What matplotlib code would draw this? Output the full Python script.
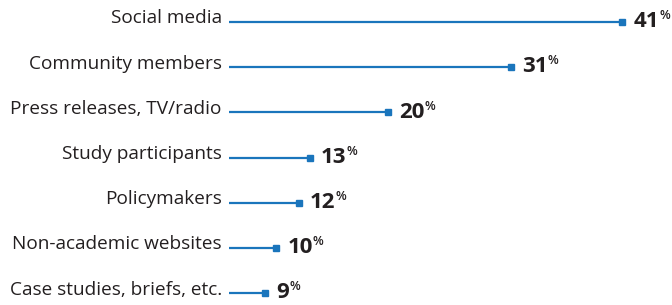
import matplotlib.pyplot as plt

categories = ["Social media", "Community members", "Press releases, TV/radio",
              "Study participants", "Policymakers", "Non-academic websites",
              "Case studies, briefs, etc."]
values = [41, 31, 20, 13, 12, 10, 9]

BLUE = "#1a75bc"
DARK = "#231f20"
FONT = "Open Sans"
LINE_START = 5.75  # value where the leader lines begin

fig = plt.figure(figsize=(6.72, 3.05), dpi=100)
ax = fig.add_axes([0, 0, 1, 1])
ax.set_xlim(-14.75, 45.47)
ax.set_ylim(6.261, -0.487)
ax.axis("off")

for i, (cat, v) in enumerate(zip(categories, values)):
    ax.plot([LINE_START, v], [i, i], color=BLUE, lw=1.6, solid_capstyle="butt")
    ax.plot([v], [i], marker="s", color=BLUE, markersize=4.6, lw=0)
    ax.annotate(cat, xy=(LINE_START, i), xytext=(-5, -1), textcoords="offset points",
                ha="right", va="baseline", fontsize=13.7, family=FONT, color=DARK)
    num = ax.annotate(str(v), xy=(v, i), xytext=(8, -3.8), textcoords="offset points",
                      ha="left", va="baseline", fontsize=16, fontweight="bold",
                      family=FONT, color=DARK)
    ax.annotate("%", xy=(1, 1), xycoords=num, xytext=(0.2, 1.5), textcoords="offset points",
                ha="left", va="top", fontsize=9, fontweight="semibold", family=FONT, color=DARK)

fig.savefig("out.png", dpi=100)
